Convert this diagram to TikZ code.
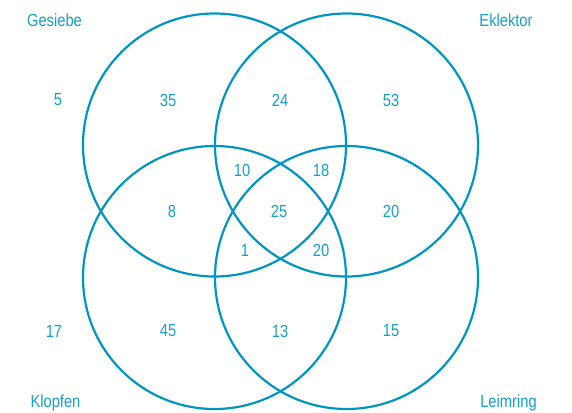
\documentclass[tikz,border=0pt]{standalone}
\usepackage{fontspec}
\setmainfont{Liberation Sans}[FakeStretch=0.84]
\definecolor{venn}{RGB}{0,150,192}
\definecolor{venntext}{RGB}{20,160,200}
\begin{document}
\begin{tikzpicture}[x=1pt,y=-1pt,
  ring/.style={draw=venn,line width=2.2pt},
  lbl/.style={text=venntext,font=\fontsize{17.5}{19}\selectfont,inner sep=0pt}]
\useasboundingbox (0,0) rectangle (572,412);
\coordinate (cTL) at (214.5,145);
\coordinate (cTR) at (346.5,145);
\coordinate (cBL) at (214.5,277.5);
\coordinate (cBR) at (346.5,277.5);
\draw[ring] (cTL) circle[radius=131.5];
\draw[ring] (cTR) circle[radius=131.5];
\draw[ring] (cBL) circle[radius=131.5];
\draw[ring] (cBR) circle[radius=131.5];
\node[lbl] (gesiebe) at (54.5,20) {Gesiebe};
\node[lbl] (eklektor) at (506,20) {Eklektor};
\node[lbl] (klopfen) at (55.5,403) {Klopfen};
\node[lbl] (leimring) at (508.5,403) {Leimring};
\node[lbl] (n5) at (58,100) {5};
\node[lbl] (n35) at (168,100) {35};
\node[lbl] (n24) at (280,100) {24};
\node[lbl] (n53) at (391,100) {53};
\node[lbl] (n10) at (242,170) {10};
\node[lbl] (n18) at (321,170) {18};
\node[lbl] (n8) at (172,211) {8};
\node[lbl] (n25) at (279,211) {25};
\node[lbl] (n20a) at (391,211) {20};
\node[lbl] (n1) at (245,250) {1};
\node[lbl] (n20b) at (321,250) {20};
\node[lbl] (n17) at (54,331) {17};
\node[lbl] (n45) at (168,331) {45};
\node[lbl] (n13) at (280,331) {13};
\node[lbl] (n15) at (391,331) {15};
\end{tikzpicture}
\end{document}
